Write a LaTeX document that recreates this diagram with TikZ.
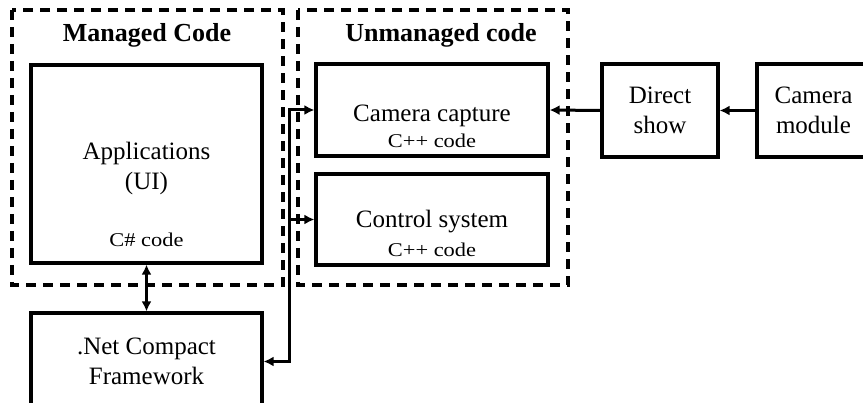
\documentclass[tikz,border=0pt]{standalone}
\usepackage{fontspec}
\setmainfont{Liberation Serif}
\newfontfamily\codefont[FakeStretch=1.15]{Liberation Serif}
\usetikzlibrary{arrows.meta}
\usetikzlibrary{positioning}
\tikzset{blockbox/.style = {draw, line width = 3.2pt, inner sep = 0,
                            font = \fontsize{25}{30}\selectfont, align = center},
         groupbox/.style = {line width = 3.2pt, dash pattern = on 10pt off 7pt},
         title/.style = {font = \bfseries\fontsize{26}{30}\selectfont, anchor = base},
         maintext/.style = {font = \fontsize{25}{30}\selectfont, anchor = base},
         codetext/.style = {font = \codefont\fontsize{19.5}{22}\selectfont, anchor = base},
         link/.style = {line width = 3pt, >={Latex[length=10pt, width=10pt]}}}

\begin{document}
\begin{tikzpicture}[x=1pt, y=-1pt]
      \useasboundingbox (0, 0) rectangle (863, 403);

      % managed / unmanaged groups
      \draw [groupbox] (12, 10) rectangle (283, 285);
      \draw [groupbox] (298, 10) rectangle (568, 285);
      \node [title] (managed) at (147, 42) {Managed Code};
      \node [title] (unmanaged) at (441, 42) {Unmanaged code};

      \node [blockbox, minimum width = 231pt, minimum height = 198pt] (apps) at (146.5, 164) {};
      \node [maintext] (appstxt) at (146.5, 160) {Applications};
      \node [maintext] (uitxt) at (146.5, 190) {(UI)};
      \node [codetext] (cscode) at (146.5, 247) {C\# code};

      \node [blockbox, minimum width = 231pt, minimum height = 97pt] (net) at (146.5, 361.5)
            {.Net Compact\\Framework};

      \node [blockbox, minimum width = 232pt, minimum height = 92pt] (capture) at (432, 110) {};
      \node [maintext] (capturetxt) at (432, 122) {Camera capture};
      \node [codetext] (capturecode) at (432, 148) {C++ code};

      \node [blockbox, minimum width = 232pt, minimum height = 91pt] (control) at (432, 219.5) {};
      \node [maintext] (controltxt) at (432, 228) {Control system};
      \node [codetext] (controlcode) at (432, 257) {C++ code};

      \node [blockbox, minimum width = 116pt, minimum height = 93pt] (direct) at (660, 110.5)
            {Direct\\show};
      \node [blockbox, minimum width = 113pt, minimum height = 93pt] (module) at (813.5, 110.5)
            {Camera\\module};

      \draw [link, ->] (module.west) -- (direct.east);
      \draw [link, ->] (direct.west) -- (capture.east);
      \draw [link, <->] (apps.south) -- (net.north);

      \coordinate (bus) at (289, 0);
      \draw [link, <->] (net.east) -| (bus |- capture.west) -- (capture.west);
      \draw [link, ->] (bus |- control.west) -- (control.west);
    \end{tikzpicture}
\end{document}
